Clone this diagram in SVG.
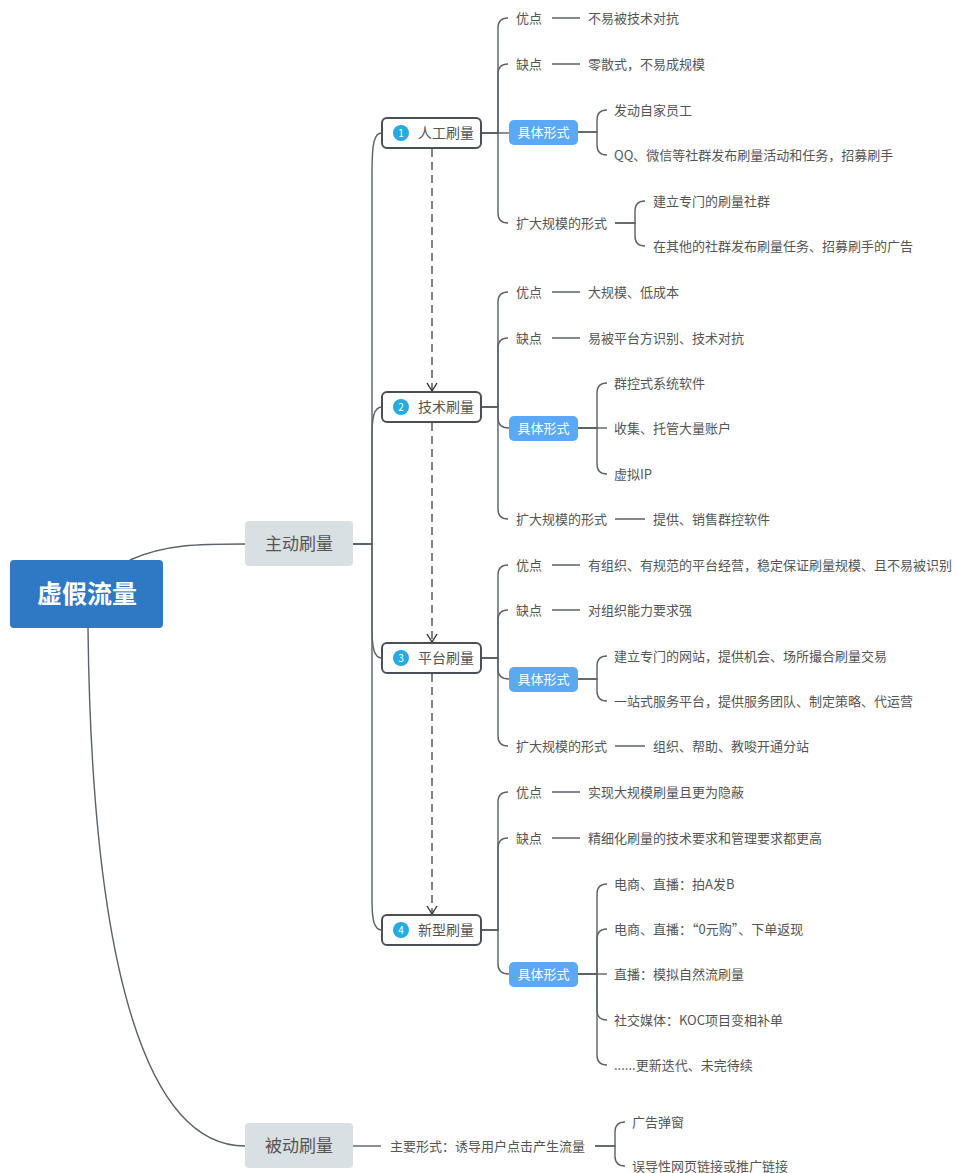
<svg xmlns="http://www.w3.org/2000/svg" width="957" height="1173" viewBox="0 0 957 1173">
<style>
text{font-family:"Noto Sans CJK SC","Liberation Sans",sans-serif;}
.c{fill:none;stroke:#5b6169;stroke-width:1.4;}
.d{fill:none;stroke:#555b62;stroke-width:1.5;stroke-dasharray:8 5;}
.ah{fill:none;stroke:#333;stroke-width:1.4;}
.t{font-size:13px;fill:#555;}
.nt{font-size:14px;fill:#555;}
.num{font-size:10px;fill:#fff;text-anchor:middle;}
.nbox{fill:#fff;stroke:#4a4f55;stroke-width:2;}
.tag{fill:#5ba8f4;}
.tagt{font-size:13px;fill:#fff;text-anchor:middle;}
.l2{fill:#d9e0e3;}
.l2t{font-size:17px;fill:#555;text-anchor:middle;}
</style>
<rect width="957" height="1173" fill="#fff"/>
<g id="connectors">
<path class="c" d="M130 560 C165 544 200 544 245 544"/>
<path class="c" d="M88 628 C92 980 150 1146 245 1146"/>
<path class="c" d="M353 544 H372 V173 C372 143 374 133 382 133"/>
<path class="c" d="M353 544 H372 V437 C372 417 374 407 382 407"/>
<path class="c" d="M353 544 H372 V628 C372 648 374 658 382 658"/>
<path class="c" d="M353 544 H372 V900 C372 920 374 930 382 930"/>
<path class="d" d="M432 149 V391"/>
<path class="ah" d="M427 383 L432 391 L437 383"/>
<path class="d" d="M432 423 V642"/>
<path class="ah" d="M427 634 L432 642 L437 634"/>
<path class="d" d="M432 674 V914"/>
<path class="ah" d="M427 906 L432 914 L437 906"/>
<path class="c" d="M481 133 H498 V28 Q498 18 508 18"/>
<path class="c" d="M481 133 H498 V74 Q498 64 508 64"/>
<path class="c" d="M481 133 H509"/>
<path class="c" d="M481 133 H498 V213 Q498 223 508 223"/>
<path class="c" d="M552 18 H580 M552 64 H580"/>
<path class="c" d="M578 132 H597 V120 Q597 110 607 110"/>
<path class="c" d="M578 132 H597 V145 Q597 155 607 155"/>
<path class="c" d="M615 223 H635 V211 Q635 201 645 201"/>
<path class="c" d="M615 223 H635 V236 Q635 246 645 246"/>
<path class="c" d="M481 407 H498 V302 Q498 292 508 292"/>
<path class="c" d="M481 407 H498 V348 Q498 338 508 338"/>
<path class="c" d="M481 407 H498 V418 Q498 428 509 428"/>
<path class="c" d="M481 407 H498 V509 Q498 519 508 519"/>
<path class="c" d="M552 292 H580 M552 338 H580 M615 519 H645"/>
<path class="c" d="M578 428 H597 V393 Q597 383 607 383"/>
<path class="c" d="M578 428 H607"/>
<path class="c" d="M578 428 H597 V464 Q597 474 607 474"/>
<path class="c" d="M481 658 H498 V575 Q498 565 508 565"/>
<path class="c" d="M481 658 H498 V620 Q498 610 508 610"/>
<path class="c" d="M481 658 H498 V669 Q498 679 509 679"/>
<path class="c" d="M481 658 H498 V736 Q498 746 508 746"/>
<path class="c" d="M552 565 H580 M552 610 H580 M615 746 H645"/>
<path class="c" d="M578 679 H597 V666 Q597 656 607 656"/>
<path class="c" d="M578 679 H597 V691 Q597 701 607 701"/>
<path class="c" d="M481 930 H498 V802 Q498 792 508 792"/>
<path class="c" d="M481 930 H498 V848 Q498 838 508 838"/>
<path class="c" d="M481 930 H498 V964 Q498 974 509 974"/>
<path class="c" d="M552 792 H580 M552 838 H580"/>
<path class="c" d="M578 974 H597 V894 Q597 884 607 884"/>
<path class="c" d="M578 974 H597 V939 Q597 929 607 929"/>
<path class="c" d="M578 974 H607"/>
<path class="c" d="M578 974 H597 V1010 Q597 1020 607 1020"/>
<path class="c" d="M578 974 H597 V1055 Q597 1065 607 1065"/>
<path class="c" d="M353 1146 H381"/>
<path class="c" d="M595 1146 H615 V1132 Q615 1122 625 1122"/>
<path class="c" d="M595 1146 H615 V1156 Q615 1166 625 1166"/>
</g>
<g id="root">
<rect x="10" y="560" width="153" height="68" rx="4" fill="#2f78c4"/>
<text x="87" y="603" font-size="25" font-weight="bold" fill="#fff" text-anchor="middle">虚假流量</text>
</g>
<g id="active">
<rect class="l2" x="245" y="521" width="108" height="45" rx="4"/>
<text class="l2t" x="299" y="550">主动刷量</text>
</g>
<g id="passive">
<rect class="l2" x="245" y="1123" width="108" height="45" rx="4"/>
<text class="l2t" x="299" y="1152">被动刷量</text>
</g>
<g id="n1">
<rect class="nbox" x="382" y="118" width="99" height="30" rx="5"/>
<circle cx="401" cy="133" r="8" fill="#27a9e1"/>
<text class="num" x="401" y="136.5">1</text>
<text class="nt" x="418" y="138">人工刷量</text>
</g>
<g id="n2">
<rect class="nbox" x="382" y="392" width="99" height="30" rx="5"/>
<circle cx="401" cy="407" r="8" fill="#27a9e1"/>
<text class="num" x="401" y="410.5">2</text>
<text class="nt" x="418" y="412">技术刷量</text>
</g>
<g id="n3">
<rect class="nbox" x="382" y="643" width="99" height="30" rx="5"/>
<circle cx="401" cy="658" r="8" fill="#27a9e1"/>
<text class="num" x="401" y="661.5">3</text>
<text class="nt" x="418" y="663">平台刷量</text>
</g>
<g id="n4">
<rect class="nbox" x="382" y="915" width="99" height="30" rx="5"/>
<circle cx="401" cy="930" r="8" fill="#27a9e1"/>
<text class="num" x="401" y="933.5">4</text>
<text class="nt" x="418" y="935">新型刷量</text>
</g>
<g id="n1-children">
<text class="t" x="516" y="23">优点</text>
<text class="t" x="588" y="23">不易被技术对抗</text>
<text class="t" x="516" y="69">缺点</text>
<text class="t" x="588" y="69">零散式，不易成规模</text>
<rect class="tag" x="509" y="120" width="69" height="25" rx="5"/>
<text class="tagt" x="543.5" y="137">具体形式</text>
<text class="t" x="614" y="115">发动自家员工</text>
<text class="t" x="614" y="160">QQ、微信等社群发布刷量活动和任务，招募刷手</text>
<text class="t" x="516" y="228">扩大规模的形式</text>
<text class="t" x="653" y="206">建立专门的刷量社群</text>
<text class="t" x="653" y="251">在其他的社群发布刷量任务、招募刷手的广告</text>
</g>
<g id="n2-children">
<text class="t" x="516" y="297">优点</text>
<text class="t" x="588" y="297">大规模、低成本</text>
<text class="t" x="516" y="343">缺点</text>
<text class="t" x="588" y="343">易被平台方识别、技术对抗</text>
<rect class="tag" x="509" y="416" width="69" height="25" rx="5"/>
<text class="tagt" x="543.5" y="433">具体形式</text>
<text class="t" x="614" y="388">群控式系统软件</text>
<text class="t" x="614" y="433">收集、托管大量账户</text>
<text class="t" x="614" y="479">虚拟IP</text>
<text class="t" x="516" y="524">扩大规模的形式</text>
<text class="t" x="653" y="524">提供、销售群控软件</text>
</g>
<g id="n3-children">
<text class="t" x="516" y="570">优点</text>
<text class="t" x="588" y="570">有组织、有规范的平台经营，稳定保证刷量规模、且不易被识别</text>
<text class="t" x="516" y="615">缺点</text>
<text class="t" x="588" y="615">对组织能力要求强</text>
<rect class="tag" x="509" y="667" width="69" height="25" rx="5"/>
<text class="tagt" x="543.5" y="684">具体形式</text>
<text class="t" x="614" y="661">建立专门的网站，提供机会、场所撮合刷量交易</text>
<text class="t" x="614" y="706">一站式服务平台，提供服务团队、制定策略、代运营</text>
<text class="t" x="516" y="751">扩大规模的形式</text>
<text class="t" x="653" y="751">组织、帮助、教唆开通分站</text>
</g>
<g id="n4-children">
<text class="t" x="516" y="797">优点</text>
<text class="t" x="588" y="797">实现大规模刷量且更为隐蔽</text>
<text class="t" x="516" y="843">缺点</text>
<text class="t" x="588" y="843">精细化刷量的技术要求和管理要求都更高</text>
<rect class="tag" x="509" y="962" width="69" height="25" rx="5"/>
<text class="tagt" x="543.5" y="979">具体形式</text>
<text class="t" x="614" y="889">电商、直播：拍A发B</text>
<text class="t" x="614" y="934">电商、直播：“0元购”、下单返现</text>
<text class="t" x="614" y="979">直播：模拟自然流刷量</text>
<text class="t" x="614" y="1025">社交媒体：KOC项目变相补单</text>
<text class="t" x="614" y="1070">......更新迭代、未完待续</text>
</g>
<g id="passive-children">
<text class="t" x="390" y="1151">主要形式：诱导用户点击产生流量</text>
<text class="t" x="632" y="1127">广告弹窗</text>
<text class="t" x="632" y="1171">误导性网页链接或推广链接</text>
</g>
</svg>
